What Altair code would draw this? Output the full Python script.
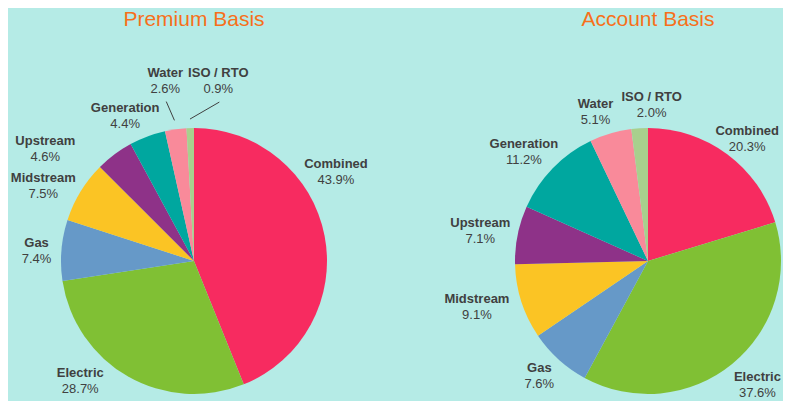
import math
import altair as alt
import pandas as pd

# ---- data -------------------------------------------------------------
CATEGORIES = ["Combined", "Electric", "Gas", "Midstream", "Upstream",
              "Generation", "Water", "ISO / RTO"]
PREMIUM = [43.9, 28.7, 7.4, 7.5, 4.6, 4.4, 2.6, 0.9]
ACCOUNT = [20.3, 37.6, 7.6, 9.1, 7.1, 11.2, 5.1, 2.0]
TITLES = ["Premium Basis", "Account Basis"]

# ---- style ------------------------------------------------------------
COLORS = ["#f72b60", "#80c034", "#6699c8", "#fbc424", "#8e3288",
          "#00a79f", "#f98a9a", "#a8d08d"]
BG = "#b5ebe6"
ORANGE = "#f7701b"
TEXT = "#404040"
FONT = "Liberation Sans"
PIE_R = 133
LABEL_R = 165

# manual label nudges (pixels) like the hand-placed labels of the original
LABEL_NUDGE = {
    "Premium Basis": {"Combined": (-20, -58), "Electric": (-32, -23), "Gas": (7, 3),
                      "Midstream": (-10, 11), "Upstream": (-50, 20),
                      "Generation": (-11, 10), "Water": (-6, -17), "ISO / RTO": (29, -15)},
    "Account Basis": {"Combined": (1, 11), "Electric": (5, -4), "Gas": (2, -7),
                      "Midstream": (-14, -4), "Upstream": (-6, 2),
                      "Generation": (-6, 6), "Water": (-6, 9), "ISO / RTO": (14, 9)},
}
LEADERS = {"Premium Basis": ["Water", "ISO / RTO"], "Account Basis": []}
TITLE_OFFSET = {"Premium Basis": 37, "Account Basis": 61}


def pie(title, values, width):
    df = pd.DataFrame({
        "cat": CATEGORIES,
        "val": values,
        "idx": list(range(len(CATEGORIES))),
        "pct": [f"{v:.1f}%" for v in values],
    })
    total = float(sum(values))
    tscale = alt.Scale(domain=[0, total], range=[0, 2 * math.pi])
    color = alt.Color("cat:N", scale=alt.Scale(domain=CATEGORIES, range=COLORS),
                      legend=None)
    arc = alt.Chart(df).mark_arc(outerRadius=PIE_R).encode(
        theta=alt.Theta("val:Q", stack=True, scale=tscale),
        color=color,
        order=alt.Order("idx:Q"),
    )
    lab = alt.Chart(df).transform_window(
        cum="sum(val)", sort=[alt.SortField("idx")], frame=[None, 0]
    ).transform_calculate(mid="datum.cum - datum.val / 2")
    layers = [arc]
    cx, cy = width / 2, PIE_R
    k = 2 * math.pi / total
    for cat in LEADERS[title]:
        dx, dy = LABEL_NUDGE[title][cat]
        sub = lab.transform_filter(alt.datum.cat == cat).transform_calculate(
            a=f"datum.mid * {k}"
        ).transform_calculate(
            ex=f"{cx} + {PIE_R + 9} * sin(datum.a)",
            ey=f"{cy} - {PIE_R + 9} * cos(datum.a)",
            sx=f"{cx} + {LABEL_R} * sin(datum.a) + {dx + 1}",
            sy=f"{cy} - {LABEL_R} * cos(datum.a) + {dy + 21}",
        )
        layers.append(sub.mark_rule(color=TEXT, strokeWidth=1).encode(
            x=alt.X("sx:Q", scale=None, axis=None),
            y=alt.Y("sy:Q", scale=None, axis=None),
            x2="ex:Q", y2="ey:Q",
        ))
    for cat in CATEGORIES:
        dx, dy = LABEL_NUDGE[title][cat]
        sub = lab.transform_filter(alt.datum.cat == cat)
        layers.append(sub.mark_text(
            radius=LABEL_R, dx=dx, dy=dy - 8, font=FONT, fontSize=13,
            fontWeight="bold", color=TEXT, align="center", baseline="middle"
        ).encode(theta=alt.Theta("mid:Q", scale=tscale), text="cat:N"))
        layers.append(sub.mark_text(
            radius=LABEL_R, dx=dx, dy=dy + 8, font=FONT, fontSize=13,
            fontWeight="normal", color=TEXT, align="center", baseline="middle"
        ).encode(theta=alt.Theta("mid:Q", scale=tscale), text="pct:N"))
    return alt.layer(*layers).properties(
        width=width, height=2 * PIE_R,
        title=alt.TitleParams(title, font=FONT, fontSize=21, fontWeight="normal",
                              color=ORANGE, anchor="middle", frame="group",
                              offset=TITLE_OFFSET[title]),
    )


left = pie(TITLES[0], PREMIUM, 372)
right = pie(TITLES[1], ACCOUNT, 270)

chart = alt.hconcat(left, right, spacing=133, bounds="flush").properties(
    padding={"left": 0, "top": 0, "right": 0, "bottom": 12}, background=BG
).configure_view(stroke=None)

chart.save("out.html", embed_options={"renderer": "svg", "actions": False})
